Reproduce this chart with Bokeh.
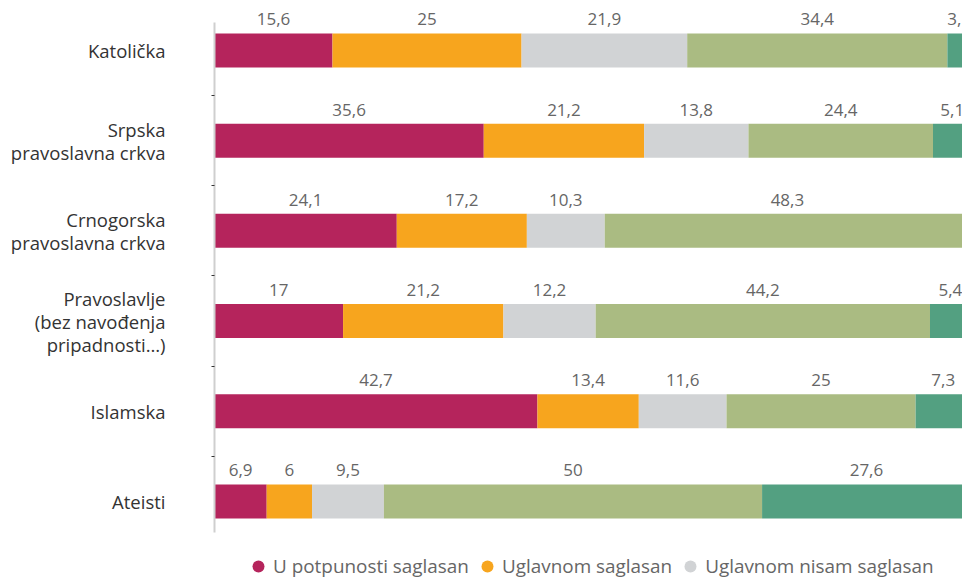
from bokeh.plotting import figure
from bokeh.models import ColumnDataSource, LabelSet, FixedTicker, Range1d, Legend, LegendItem
from bokeh.core.properties import value
from bokeh.embed import file_html
from bokeh.resources import INLINE

# ---- data ----
categories = ["Katolička",
              "Srpska\npravoslavna crkva",
              "Crnogorska\npravoslavna crkva",
              "Pravoslavlje\n(bez navođenja\npripadnosti…)",
              "Islamska",
              "Ateisti"]
legend_names = ["U potpunosti saglasan", "Uglavnom saglasan", "Uglavnom nisam saglasan"]
s1 = [15.6, 35.6, 24.1, 17, 42.7, 6.9]
s2 = [25, 21.2, 17.2, 21.2, 13.4, 6]
s3 = [21.9, 13.8, 10.3, 12.2, 11.6, 9.5]
s4 = [34.4, 24.4, 48.3, 44.2, 25, 50]
s5 = [3.1, 5.1, 0, 5.4, 7.3, 27.6]
series = [s1, s2, s3, s4, s5]
colors = ["#B5245C", "#F7A51E", "#D1D3D5", "#AABB82", "#53A081"]

FONT = "Open Sans"
BAR_H = 0.377

p = figure(width=962, height=578, output_backend="svg", toolbar_location=None,
           x_range=Range1d(0, 98.9), y_range=Range1d(5.854, -0.554),
           x_axis_type=None, min_border_left=214, min_border_right=0,
           min_border_top=0, min_border_bottom=0)
p.outline_line_color = None
p.grid.visible = False
p.background_fill_color = "white"

ys = list(range(len(categories)))
left = [0.0] * len(categories)
for k, vals in enumerate(series):
    right = [l + v for l, v in zip(left, vals)]
    src = ColumnDataSource(dict(y=ys, left=left, right=right))
    p.hbar(y="y", left="left", right="right", height=BAR_H, source=src,
           fill_color=colors[k], line_color=None)
    lx, ly, lt = [], [], []
    for i, v in enumerate(vals):
        if v > 0:
            lx.append((left[i] + right[i]) / 2)
            ly.append(i - BAR_H / 2)
            lt.append(("%g" % v).replace(".", ","))
    lsrc = ColumnDataSource(dict(x=lx, y=ly, t=lt))
    p.add_layout(LabelSet(x="x", y="y", text="t", source=lsrc, text_align="center",
                          text_baseline="alphabetic", y_offset=8,
                          text_font=value(FONT), text_font_size=value("17px"),
                          text_color=value("#666666")))
    left = right

ax = p.yaxis[0]
ax.bounds = (-0.310, 5.344)
ax.ticker = FixedTicker(ticks=ys, minor_ticks=[i + 0.5 for i in ys[:-1]])
ax.major_label_overrides = {i: c for i, c in enumerate(categories)}
ax.major_tick_line_color = None
ax.major_tick_out = 0
ax.major_tick_in = 0
ax.minor_tick_line_color = "#333333"
ax.minor_tick_out = 3
ax.minor_tick_in = 0
ax.axis_line_color = "#CFCFCF"
ax.axis_line_width = 2
ax.major_label_standoff = 46
ax.major_label_text_font = FONT
ax.major_label_text_font_size = "18.5px"
ax.major_label_text_color = "#333333"
ax.major_label_text_line_height = 0.92

nan = float("nan")
items = []
for k, name in enumerate(legend_names):
    r = p.scatter(x=[nan], y=[nan], marker="circle", size=12, fill_color=colors[k], line_color=None)
    items.append(LegendItem(label=name, renderers=[r]))
legend = Legend(items=items, orientation="horizontal", location=(29, -3),
                label_text_font=FONT, label_text_font_size="18.9px", label_text_color="#666666",
                glyph_width=30, glyph_height=30, label_standoff=0, spacing=3, padding=0, margin=0,
                border_line_color=None, background_fill_alpha=0)
p.add_layout(legend)

open("out.html", "w").write(file_html(p, INLINE))
